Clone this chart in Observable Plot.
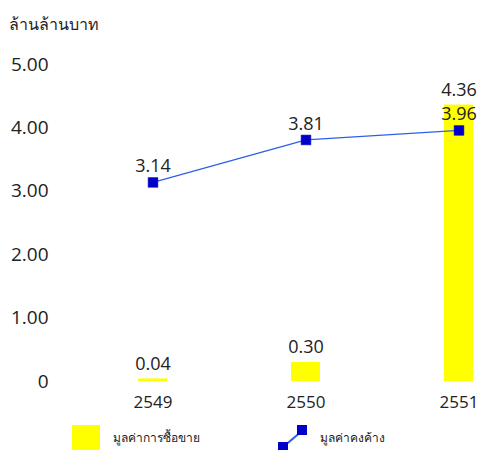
<!DOCTYPE html>
<html><head><meta charset="utf-8">
<script src="https://cdn.jsdelivr.net/npm/d3@7"></script>
<script src="https://cdn.jsdelivr.net/npm/@observablehq/plot@0.6"></script>
<style>
body{margin:0;background:#fff;font-family:"Open Sans","Noto Sans",sans-serif;}
#wrap{position:relative;width:481px;height:450px;overflow:hidden;background:#fff;}
#title{position:absolute;left:9px;top:12px;font-size:16px;color:#222;z-index:5;}
</style></head>
<body><div id="wrap"></div>
<script>
const unitLabel = "ล้านล้านบาท";
const years = ["2549", "2550", "2551"];
const tradingValue = [0.04, 0.30, 4.36];   // มูลค่าการซื้อขาย
const outstandingValue = [3.14, 3.81, 3.96]; // มูลค่าคงค้าง
const yTicks = [0, 1, 2, 3, 4, 5];
const seriesNames = ["มูลค่าการซื้อขาย", "มูลค่าคงค้าง"];

const bars = years.map((y, i) => ({year: y, value: tradingValue[i]}));
const pts = years.map((y, i) => ({year: y, value: outstandingValue[i]}));

const chart = Plot.plot({
  width: 481, height: 420,
  marginLeft: 48, marginBottom: 35, marginTop: 0, marginRight: 0,
  style: {fontFamily: "'Open Sans','Noto Sans',sans-serif", background: "#fff"},
  x: {type: "band", domain: years, range: [76.5, 535.5], paddingInner: 0.81, paddingOuter: 0.405},
  y: {domain: [0, 5], range: [381, 64]},
  marks: [
    Plot.barY(bars, {x: "year", y: "value", fill: "#ffff00"}),
    Plot.text(bars, {x: "year", y: "value", text: d => d.value.toFixed(2), dy: -15, fontSize: 18, fill: "#222"}),
    Plot.line(pts, {x: "year", y: "value", stroke: "#2f5fe8", strokeWidth: 1.3}),
    Plot.dot(pts, {x: "year", y: "value", symbol: "square", r: 5.5, fill: "#0000c8", stroke: "#0000c8", strokeWidth: 0.5}),
    Plot.text(pts, {x: "year", y: "value", text: d => d.value.toFixed(2), dy: -16, fontSize: 18, fill: "#222"}),
    Plot.axisY({ticks: yTicks, tickFormat: d => d === 0 ? "0" : d.toFixed(2), tickSize: 0, tickPadding: 0, fontSize: 19, color: "#222", label: null}),
    Plot.axisX({tickSize: 0, tickPadding: 10, fontSize: 17, color: "#222", label: null})
  ]
});
chart.style.position = "absolute";
chart.style.left = "0px";
chart.style.top = "0px";
const wrap = document.getElementById("wrap");
wrap.appendChild(chart);
const title = document.createElement("div");
title.id = "title";
title.textContent = unitLabel;
wrap.appendChild(title);

// legend
const legSvg = d3.select(wrap).append("svg")
  .attr("width", 481).attr("height", 30)
  .style("position", "absolute").style("left", "0px").style("top", "422px");
legSvg.append("rect").attr("x", 72).attr("y", 3).attr("width", 28).attr("height", 26).attr("fill", "#ffff00");
legSvg.append("text").attr("x", 113).attr("y", 20).text(seriesNames[0])
  .attr("font-size", 12).attr("fill", "#222").attr("font-family", "'Noto Sans','Open Sans',sans-serif");
legSvg.append("line").attr("x1", 283).attr("y1", 25).attr("x2", 302).attr("y2", 9)
  .attr("stroke", "#2f5fe8").attr("stroke-width", 2);
legSvg.append("rect").attr("x", 278).attr("y", 20).attr("width", 10).attr("height", 10).attr("fill", "#0000c8");
legSvg.append("rect").attr("x", 297).attr("y", 3).attr("width", 10).attr("height", 10).attr("fill", "#0000c8");
legSvg.append("text").attr("x", 320).attr("y", 20).text(seriesNames[1])
  .attr("font-size", 12).attr("fill", "#222").attr("font-family", "'Noto Sans','Open Sans',sans-serif");
</script></body></html>
